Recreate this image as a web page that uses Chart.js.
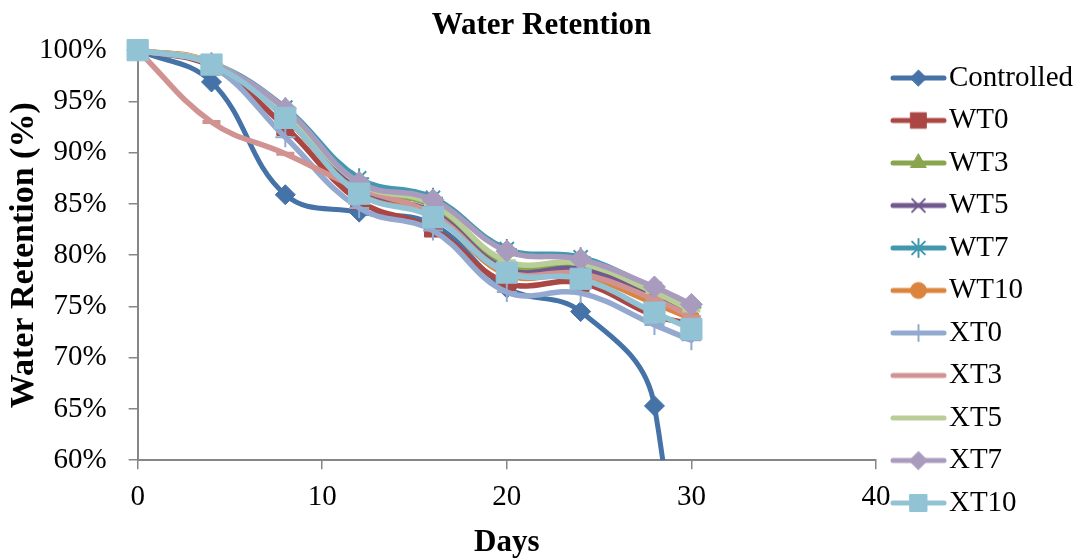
<!DOCTYPE html>
<html>
<head>
<meta charset="utf-8">
<script src="https://cdn.jsdelivr.net/npm/chart.js@4.4.1/dist/chart.umd.min.js"></script>
<style>
    html, body { margin: 0; padding: 0; background: #ffffff; }
    #wrap { width: 1080px; height: 560px; }
</style>
</head>
<body>
<div id="wrap"><canvas id="chart" width="1080" height="560"></canvas></div>
<script>
// Days of measurement (x values)
const days = [0, 4, 8, 12, 16, 20, 24, 28, 30];

// Water retention (%) per sample
const controlled = [100, 96.9, 85.9, 84.2, 83.0, 76.8, 74.5, 65.3, 10];
const wt0  = [100, 98.4, 92.5, 85.3, 82.6, 77.3, 77.3, 74.1, 73.3];
const wt3  = [100, 98.7, 93.8, 86.8, 84.8, 79.1, 79.0, 76.0, 74.3];
const wt5  = [100, 98.6, 93.6, 86.3, 84.2, 78.6, 78.6, 75.8, 74.0];
const wt7  = [100, 98.8, 94.4, 87.5, 85.6, 80.6, 79.8, 76.7, 74.9];
const wt10 = [100, 98.8, 93.4, 86.0, 83.8, 78.1, 78.0, 75.3, 73.8];
const xt0  = [100, 98.5, 91.5, 84.6, 82.4, 76.4, 76.3, 73.2, 71.7];
const xt3  = [100, 93.0, 89.9, 86.5, 84.0, 78.4, 78.2, 75.7, 74.0];
const xt5  = [100, 98.8, 94.0, 87.0, 85.0, 79.4, 79.2, 76.4, 74.6];
const xt7  = [100, 98.7, 94.3, 87.1, 85.4, 80.4, 79.6, 76.9, 75.2];
const xt10 = [100, 98.6, 93.4, 86.0, 83.7, 78.3, 77.7, 74.4, 72.8];

const seriesNames = ['Controlled', 'WT0', 'WT3', 'WT5', 'WT7', 'WT10', 'XT0', 'XT3', 'XT5', 'XT7', 'XT10'];
const seriesValues = [controlled, wt0, wt3, wt5, wt7, wt10, xt0, xt3, xt5, xt7, xt10];

// Axis ranges and ticks
const xRange = [0, 40];
const xStep = 10;
const yRange = [60, 100];
const yStep = 5;

// Excel 2007 style palette and markers
const seriesColors = ['#4572A7', '#AA4643', '#89A54E', '#71588F', '#4198AF', '#DB843D',
                      '#93A9CF', '#D19392', '#B9CD96', '#A99BBD', '#91C3D5'];
const seriesMarkers = [
    { style: 'rectRot',  radius: 10, border: 1, legend: 8 },
    { style: 'rect',     radius: 12, border: 1, legend: 11 },
    { style: 'triangle', radius: 10, border: 1, legend: 9 },
    { style: 'crossRot', radius: 10, border: 2, legend: 9 },
    { style: 'star',     radius: 10, border: 2, legend: 9 },
    { style: 'circle',   radius: 8,  border: 1, legend: 8 },
    { style: 'cross',    radius: 10, border: 2, legend: 8 },
    { style: 'line',     radius: 9,  border: 4, legend: 0 },
    { style: 'line',     radius: 9,  border: 4, legend: 0 },
    { style: 'rectRot',  radius: 11, border: 1, legend: 9 },
    { style: 'rect',     radius: 15, border: 1, legend: 12 }
];

const fontFamily = '"Liberation Serif", "Times New Roman", serif';
const axisColor = '#868686';

// small canvas with line + marker for the legend, like Excel draws it
function makeLegendIcon(color, marker) {
    const c = document.createElement('canvas');
    c.width = 70;
    c.height = 28;
    const g = c.getContext('2d');
    g.strokeStyle = color;
    g.fillStyle = color;
    g.lineWidth = 5;
    g.lineCap = 'round';
    g.beginPath();
    g.moveTo(16, 14);
    g.lineTo(67, 14);
    g.stroke();
    if (marker.legend > 0) {
        g.lineWidth = marker.border;
        Chart.helpers.drawPoint(g, {
            pointStyle: marker.style,
            radius: marker.legend,
            borderWidth: marker.border,
            rotation: 0
        }, 41.5, 14);
    }
    return c;
}

const legendIcons = seriesNames.map((_, i) => makeLegendIcon(seriesColors[i], seriesMarkers[i]));

const datasets = seriesNames.map((name, i) => ({
    label: name,
    data: days.map((d, j) => ({ x: d, y: seriesValues[i][j] })),
    borderColor: seriesColors[i],
    backgroundColor: seriesColors[i],
    pointBackgroundColor: seriesColors[i],
    pointBorderColor: seriesColors[i],
    pointStyle: seriesMarkers[i].style,
    pointRadius: seriesMarkers[i].radius,
    pointHoverRadius: seriesMarkers[i].radius,
    pointBorderWidth: seriesMarkers[i].border,
    borderWidth: i === 0 ? 5 : 5.5,
    tension: 0.4,
    fill: false,
    order: seriesNames.length - i, // later series drawn on top
    clip: { left: 16, top: 16, right: 16, bottom: 0 }
}));

new Chart(document.getElementById('chart'), {
    type: 'line',
    data: { datasets: datasets },
    options: {
        responsive: false,
        animation: false,
        devicePixelRatio: 1,
        layout: { padding: { left: 0, right: -3, top: 0, bottom: 0 } },
        elements: {
            line: { borderCapStyle: 'round', borderJoinStyle: 'round' }
        },
        plugins: {
            title: {
                display: true,
                text: 'Water Retention',
                color: '#000000',
                font: { family: fontFamily, size: 31, weight: 'bold', lineHeight: 1.2 },
                padding: { top: 7, bottom: 6 }
            },
            legend: {
                position: 'right',
                align: 'start',
                title: {
                    display: true,
                    text: '',
                    font: { size: 1, lineHeight: 1 },
                    padding: { top: 0, bottom: 49 }
                },
                labels: {
                    color: '#000000',
                    font: { family: fontFamily, size: 29 },
                    usePointStyle: true,
                    pointStyleWidth: 45,
                    padding: 13.5,
                    generateLabels: (chart) => chart.data.datasets.map((ds, i) => ({
                        text: ds.label,
                        pointStyle: legendIcons[i],
                        fillStyle: ds.borderColor,
                        strokeStyle: ds.borderColor,
                        fontColor: '#000000',
                        lineWidth: 0,
                        hidden: false,
                        datasetIndex: i
                    }))
                },
                onClick: () => {}
            },
            tooltip: { enabled: false }
        },
        scales: {
            x: {
                type: 'linear',
                min: xRange[0],
                max: xRange[1],
                ticks: {
                    stepSize: xStep,
                    color: '#000000',
                    font: { family: fontFamily, size: 29 },
                    padding: 10.5,
                    maxRotation: 0
                },
                grid: { drawOnChartArea: false, drawTicks: true, tickLength: 9, color: axisColor, lineWidth: 1.5 },
                border: { display: true, color: axisColor, width: 2 },
                title: {
                    display: true,
                    text: 'Days',
                    color: '#000000',
                    font: { family: fontFamily, size: 31, weight: 'bold', lineHeight: 1 },
                    padding: { top: 2.5, bottom: 1.5 }
                }
            },
            y: {
                type: 'linear',
                min: yRange[0],
                max: yRange[1],
                ticks: {
                    stepSize: yStep,
                    color: '#000000',
                    font: { family: fontFamily, size: 29 },
                    padding: 22,
                    callback: (v) => v + '%'
                },
                grid: { drawOnChartArea: false, drawTicks: true, tickLength: 9, color: axisColor, lineWidth: 1.5 },
                border: { display: true, color: axisColor, width: 2 },
                title: {
                    display: true,
                    text: 'Water Retention (%)',
                    color: '#000000',
                    font: { family: fontFamily, size: 34, weight: 'bold', lineHeight: 1 },
                    padding: { top: 7, bottom: -24 }
                }
            }
        }
    }
});
</script>
</body>
</html>
